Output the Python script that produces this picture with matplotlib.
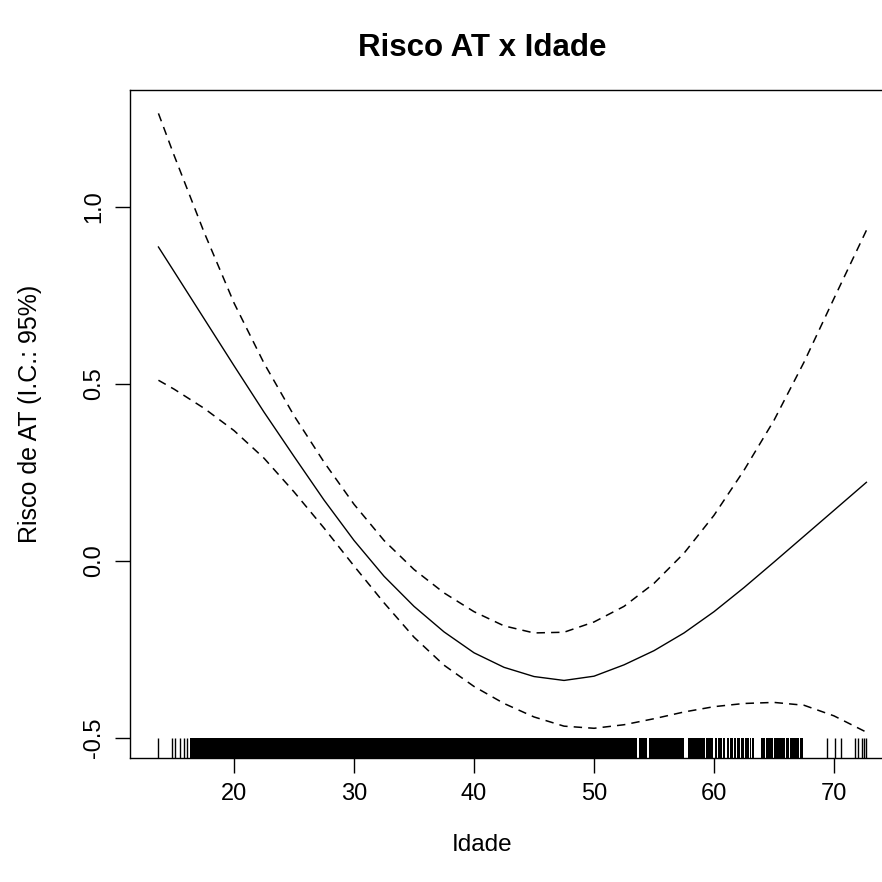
import numpy as np
import matplotlib
matplotlib.use('Agg')
import matplotlib.pyplot as plt

plt.rcParams['font.family'] = ['Liberation Sans', 'DejaVu Sans']

# Estimated smooth effect of age (solid) and 95% band (dashed)
idade = [13.7, 15, 17.5, 20, 22.5, 25, 27.5, 30, 32.5, 35, 37.5, 40, 42.5, 45,
         47.5, 50, 52.5, 55, 57.5, 60, 62.5, 65, 67.5, 70, 72.7]
risco = [0.886, 0.817, 0.684, 0.551, 0.420, 0.295, 0.172, 0.058, -0.043, -0.128,
         -0.200, -0.259, -0.300, -0.326, -0.337, -0.325, -0.293, -0.253, -0.203,
         -0.143, -0.075, -0.003, 0.070, 0.143, 0.222]
ic_sup = [1.263, 1.145, 0.928, 0.728, 0.558, 0.410, 0.279, 0.160, 0.058, -0.024,
          -0.090, -0.143, -0.183, -0.203, -0.201, -0.172, -0.128, -0.063, 0.022,
          0.129, 0.256, 0.397, 0.561, 0.741, 0.933]
ic_inf = [0.510, 0.485, 0.431, 0.368, 0.290, 0.195, 0.093, -0.014, -0.118, -0.215,
          -0.294, -0.354, -0.402, -0.440, -0.466, -0.472, -0.462, -0.445, -0.426,
          -0.411, -0.402, -0.399, -0.407, -0.437, -0.483]

# rug: dense stretches (fully black) and isolated observations
rug_faixas = [(16.3, 53.61), (53.75, 53.8), (53.86, 54.39), (54.61, 57.5),
              (57.86, 58.8), (58.87, 59.25), (59.32, 59.94),
              (60.08, 60.24), (60.32, 60.46), (60.54, 60.68), (60.76, 60.92),
              (61.06, 61.29), (61.37, 61.57), (61.65, 61.85), (61.93, 62.18),
              (62.26, 62.54), (62.62, 62.90), (62.98, 63.10), (63.18, 63.33),
              (63.89, 64.29), (64.37, 64.90), (64.98, 65.46), (65.54, 65.88),
              (65.96, 66.29), (66.37, 66.71), (66.79, 67.07), (67.15, 67.44)]
rug_idades = [13.7, 14.8, 15.1, 15.5, 15.8, 16.1,
              69.4, 70.1, 70.6, 71.75, 72.0, 72.3, 72.5, 72.7]

x_ticks = [20, 30, 40, 50, 60, 70]
y_ticks = [-0.5, 0.0, 0.5, 1.0]
y_tick_labels = ['-0.5', '0.0', '0.5', '1.0']

fig = plt.figure(figsize=(8.82, 8.82), dpi=100)
# plot box runs past the right edge of the picture (reference is cropped)
ax = fig.add_axes([130 / 882, 1 - 757.7 / 882, 764 / 882, 667.7 / 882])

ax.plot(idade, risco, color='black', lw=1.0)
ax.plot(idade, ic_sup, color='black', lw=1.1, dashes=(5.5, 4))
ax.plot(idade, ic_inf, color='black', lw=1.1, dashes=(5.5, 4))

trans = ax.get_xaxis_transform()
for a, b in rug_faixas:
    ax.axvspan(a, b, ymin=0, ymax=0.03, color='black', lw=0)
ax.vlines(rug_idades, 0, 0.03, transform=trans, color='black', lw=1.0)

ax.set_xlim(11.33, 75.0)
ax.set_ylim(-0.555, 1.329)

ax.set_xticks(x_ticks)
ax.set_yticks(y_ticks)
ax.set_yticklabels(y_tick_labels, rotation=90, va='center')
ax.tick_params(axis='both', length=11, width=1.0, labelsize=17, pad=7)

for s in ax.spines.values():
    s.set_linewidth(1.0)
ax.spines['right'].set_visible(False)

fig.text(482 / 882, 1 - 48 / 882, 'Risco AT x Idade', ha='center', va='center',
         fontsize=22.5, fontweight='bold')
fig.text(482 / 882, 1 - 845 / 882, 'Idade', ha='center', va='center', fontsize=17.5)
fig.text(30 / 882, 1 - 414 / 882, 'Risco de AT (I.C.: 95%)', ha='center', va='center',
         rotation=90, fontsize=18)

fig.savefig('out.png', dpi=100)
